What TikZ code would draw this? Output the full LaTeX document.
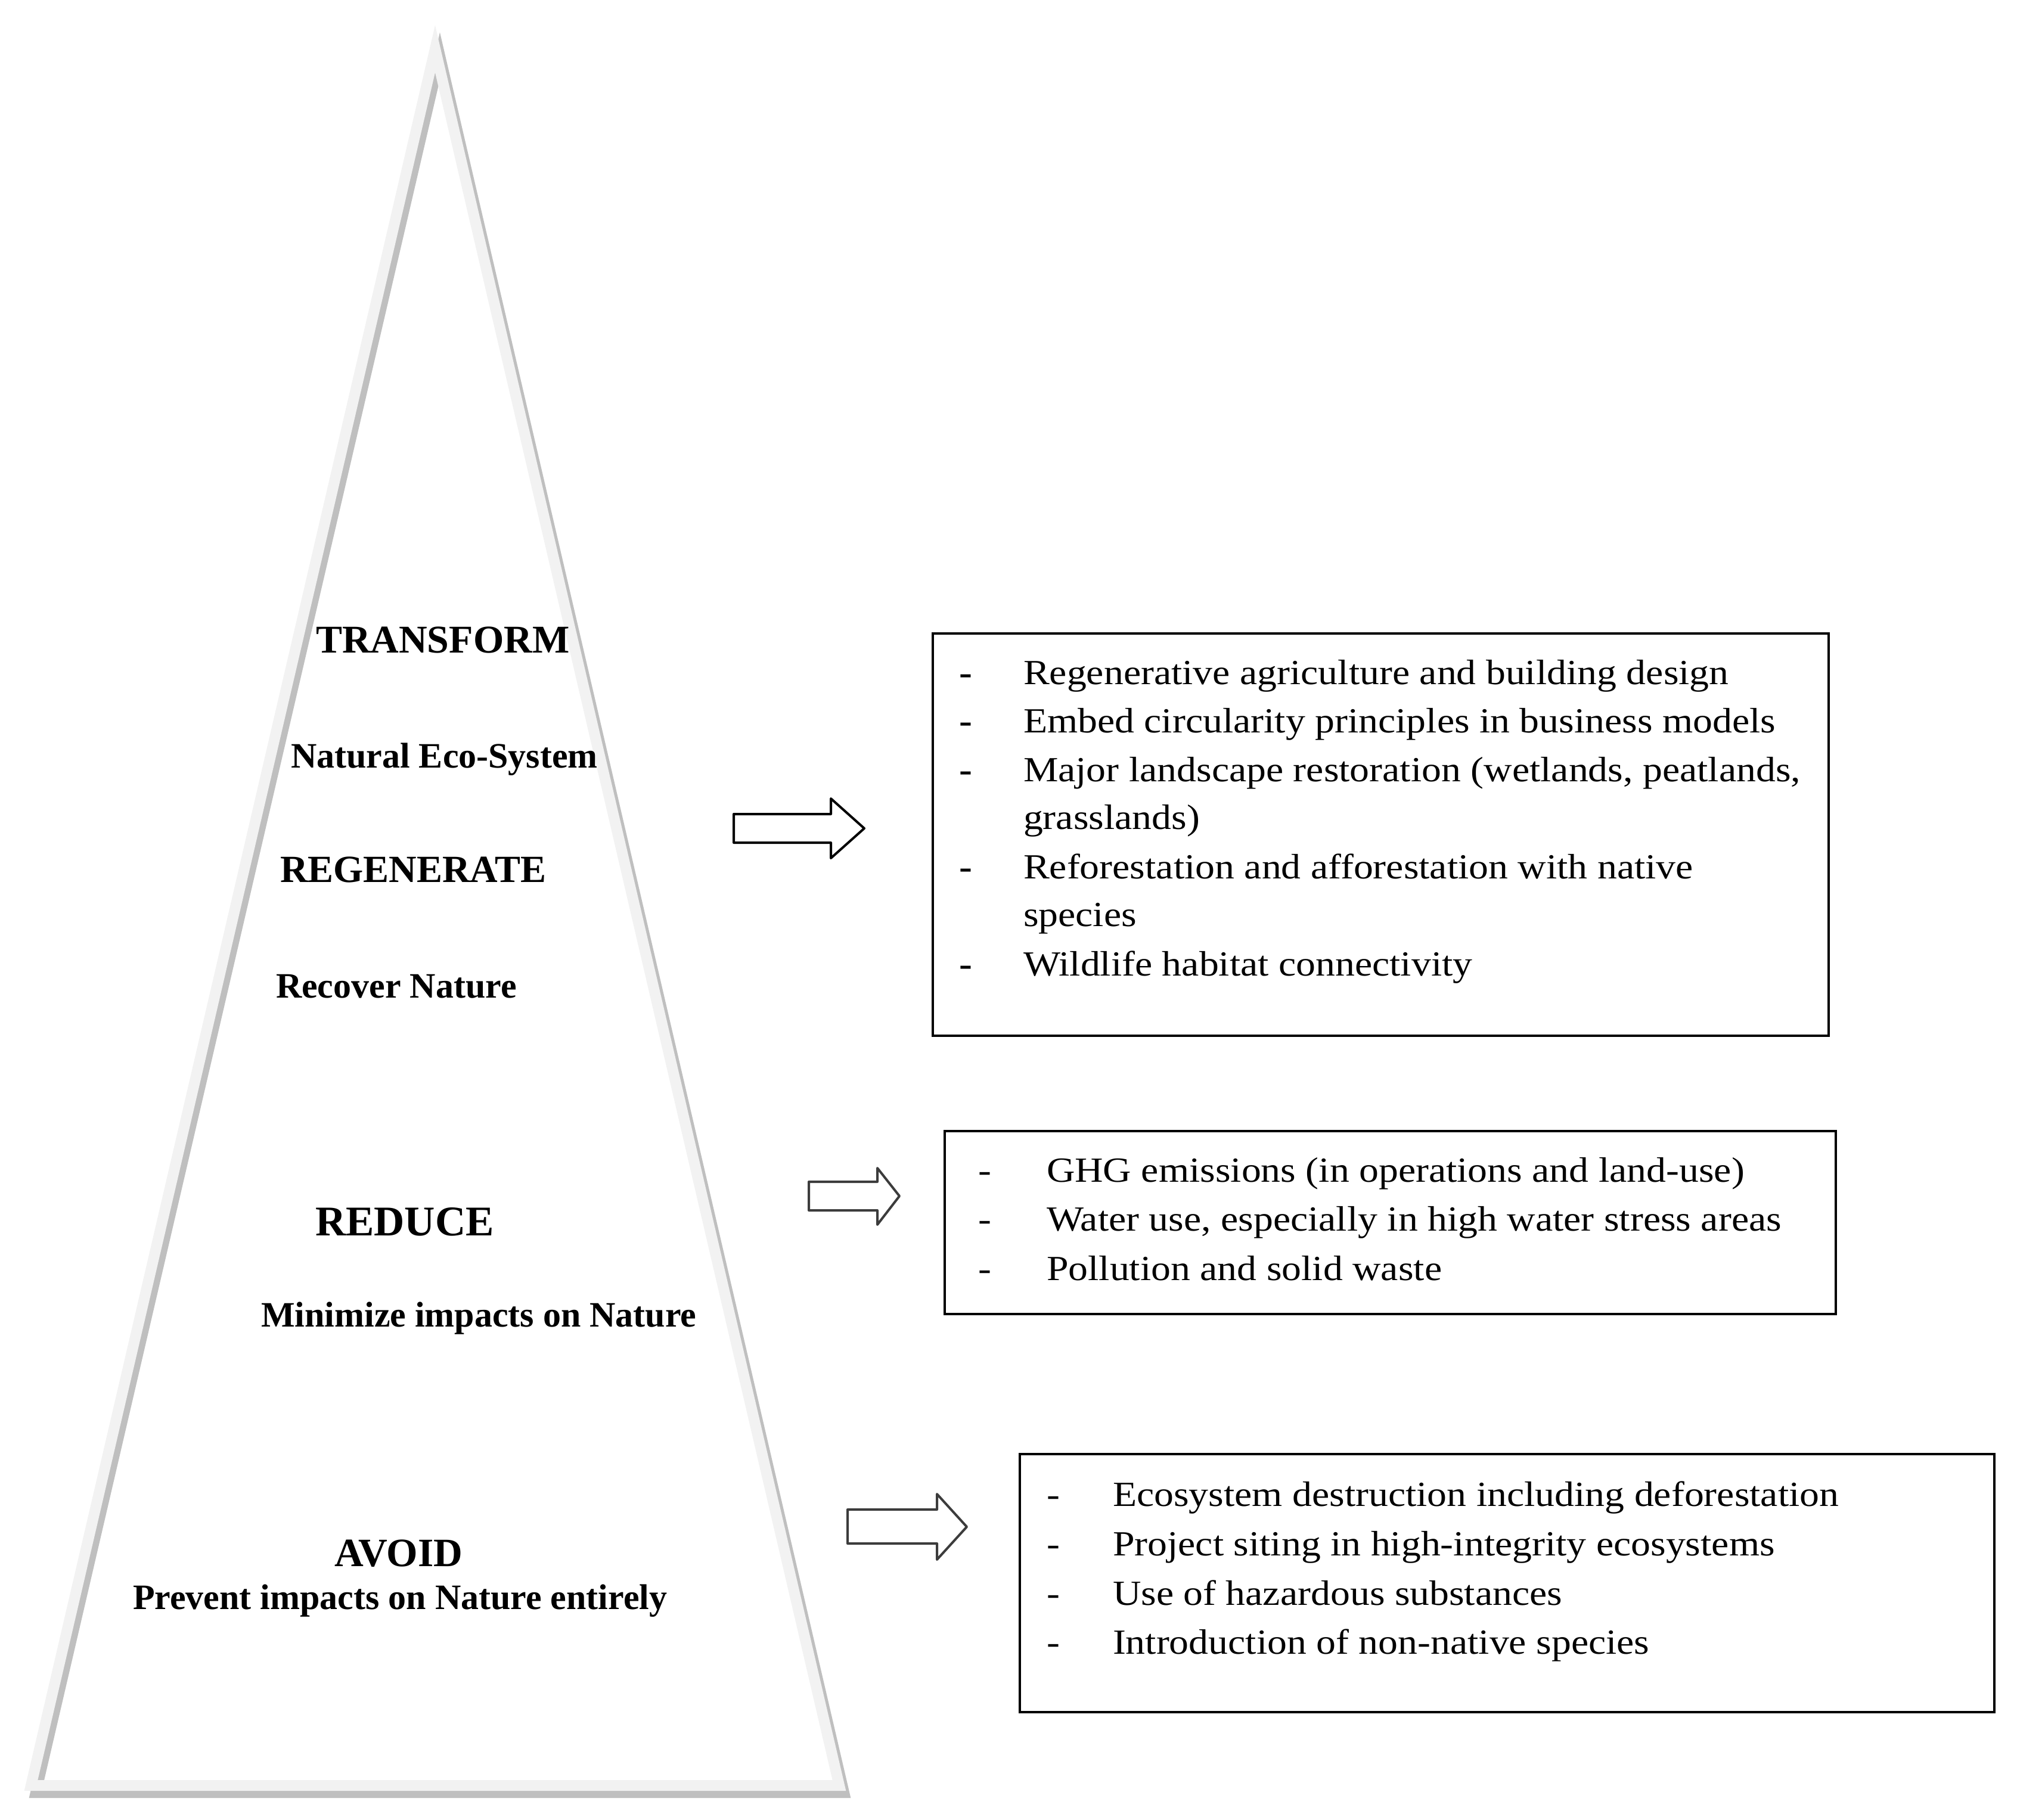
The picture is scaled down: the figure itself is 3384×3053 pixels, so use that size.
\documentclass[tikz,border=0pt]{standalone}
\usepackage{fontspec}
\setmainfont{Liberation Serif}
\newfontfamily\bodyfont[FakeStretch=1.11]{Liberation Serif}
\usetikzlibrary{fit}
\definecolor{bandgray}{HTML}{F2F2F2}
\definecolor{shadowgray}{HTML}{BFBFBF}
\definecolor{arrowgray}{HTML}{3C3C3C}
\begin{document}
\begin{tikzpicture}[x=0.2pt,y=-0.2pt,
  headlbl/.style={anchor=base west,inner sep=0pt,font=\bfseries\fontsize{#1}{#1}\selectfont},
  itemtxt/.style={anchor=base west,inner sep=0pt,font=\bodyfont\fontsize{11.85}{14}\selectfont},
  itemdash/.style={anchor=base,inner sep=0pt,font=\bodyfont\fontsize{11.85}{14}\selectfont},
  bolddash/.style={anchor=base,inner sep=0pt,font=\bodyfont\bfseries\fontsize{11.85}{14}\selectfont},
  infobox/.style={draw=black,line width=0.8pt,inner sep=0pt},
  blockarrow/.style={draw=#1,line width=0.8pt,fill=white,line join=round},
  band/.style={line width=3.6pt,line join=miter,draw=#1}]
\useasboundingbox (0,0) rectangle (3384,3053);

% pyramid
\coordinate (apex) at (730,82);
\coordinate (bl) at (52,2996);
\coordinate (br) at (1408,2996);
\draw[band=shadowgray] ([shift={(8,12)}]apex) -- ([shift={(8,12)}]br) -- ([shift={(8,12)}]bl) -- cycle;
\draw[band=bandgray] (apex) -- (br) -- (bl) -- cycle;

% pyramid labels
\node[headlbl=13.2] (transform) at (529,1095) {TRANSFORM};
\node[headlbl=12] (natural) at (487,1288) {Natural Eco-System};
\node[headlbl=12.9] (regenerate) at (469,1480) {REGENERATE};
\node[headlbl=12] (recover) at (462,1674) {Recover Nature};
\node[headlbl=14.2] (reduce) at (528,2073) {REDUCE};
\node[headlbl=12] (minimize) at (437,2226) {Minimize impacts on Nature};
\node[headlbl=13.5] (avoid) at (560,2628) {AVOID};
\node[headlbl=12] (prevent) at (222,2700) {Prevent impacts on Nature entirely};

% block arrows
\draw[blockarrow=black] (1231,1366) -- (1394,1366) -- (1394,1340) -- (1450,1390) -- (1394,1440) -- (1394,1414) -- (1231,1414) -- cycle;
\draw[blockarrow=arrowgray] (1357,1983) -- (1472,1983) -- (1472,1960) -- (1509,2007) -- (1472,2055) -- (1472,2031) -- (1357,2031) -- cycle;
\draw[blockarrow=arrowgray] (1422,2533) -- (1572,2533) -- (1572,2507) -- (1622,2562) -- (1572,2617) -- (1572,2590) -- (1422,2590) -- cycle;

% boxes
\node[infobox,fit={(1565,1063) (3068,1738)}] (box1) {};
\node[infobox,fit={(1585,1898) (3080,2205)}] (box2) {};
\node[infobox,fit={(1711,2440) (3346,2873)}] (box3) {};

% box 1 items
\node[bolddash] (d11) at (1620,1148) {-};
\node[itemtxt] (t11) at (1716,1148) {Regenerative agriculture and building design};
\node[bolddash] (d12) at (1620,1229) {-};
\node[itemtxt] (t12) at (1716,1229) {Embed circularity principles in business models};
\node[bolddash] (d13) at (1620,1311) {-};
\node[itemtxt] (t13) at (1716,1311) {Major landscape restoration (wetlands, peatlands,};
\node[itemtxt] (t13b) at (1716,1391) {grasslands)};
\node[bolddash] (d14) at (1620,1474) {-};
\node[itemtxt] (t14) at (1716,1474) {Reforestation and afforestation with native};
\node[itemtxt] (t14b) at (1716,1554) {species};
\node[bolddash] (d15) at (1620,1637) {-};
\node[itemtxt] (t15) at (1716,1637) {Wildlife habitat connectivity};

% box 2 items
\node[itemdash] (d21) at (1652,1983) {-};
\node[itemtxt] (t21) at (1755,1983) {GHG emissions (in operations and land-use)};
\node[itemdash] (d22) at (1652,2065) {-};
\node[itemtxt] (t22) at (1755,2065) {Water use, especially in high water stress areas};
\node[itemdash] (d23) at (1652,2148) {-};
\node[itemtxt] (t23) at (1755,2148) {Pollution and solid waste};

% box 3 items
\node[itemdash] (d31) at (1767,2527) {-};
\node[itemtxt] (t31) at (1866,2527) {Ecosystem destruction including deforestation};
\node[itemdash] (d32) at (1767,2610) {-};
\node[itemtxt] (t32) at (1866,2610) {Project siting in high-integrity ecosystems};
\node[itemdash] (d33) at (1767,2693) {-};
\node[itemtxt] (t33) at (1866,2693) {Use of hazardous substances};
\node[itemdash] (d34) at (1767,2775) {-};
\node[itemtxt] (t34) at (1866,2775) {Introduction of non-native species};
\end{tikzpicture}
\end{document}
